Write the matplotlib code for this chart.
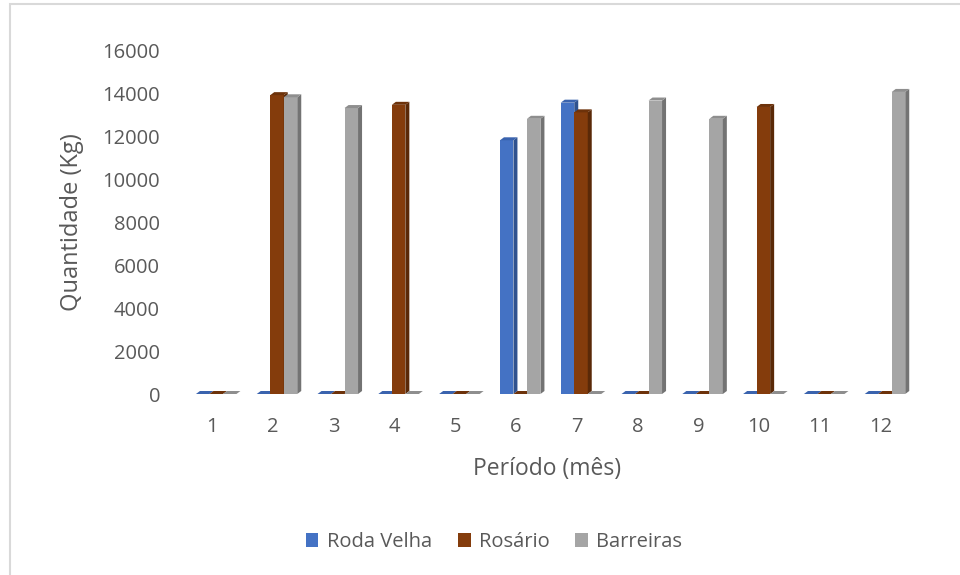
import matplotlib
matplotlib.use("Agg")
import matplotlib.pyplot as plt
from matplotlib.patches import Polygon, Rectangle
from matplotlib.transforms import ScaledTranslation
import numpy as np

# monthly quantities (kg) per site
months = [1, 2, 3, 4, 5, 6, 7, 8, 9, 10, 11, 12]
roda_velha = [0, 0, 0, 0, 0, 11800, 13550, 0, 0, 0, 0, 0]
rosario = [0, 13900, 0, 13450, 0, 0, 13100, 0, 0, 13350, 0, 0]
barreiras = [0, 13800, 13300, 0, 0, 12800, 0, 13650, 12800, 0, 0, 14050]
series_names = ["Roda Velha", "Rosário", "Barreiras"]
y_ticks = [0, 2000, 4000, 6000, 8000, 10000, 12000, 14000, 16000]

# front / side / top shades for the pseudo-3D columns
FACES = [
    ("#4472C4", "#2F528F", "#3A63AE"),
    ("#843C0C", "#5A2908", "#6D320A"),
    ("#A5A5A5", "#737373", "#8E8E8E"),
]
TEXT = "#595959"
FONT = "Open Sans"
TICK_SIZE = 14.5

W, H = 960, 575
fig = plt.figure(figsize=(W / 100, H / 100), dpi=100)
fig.patch.set_facecolor("white")


def px(x0, y0, x1, y1):
    # pixel box (top-left origin) -> figure fraction rect
    return [x0 / W, 1 - y1 / H, (x1 - x0) / W, (y1 - y0) / H]


ax = fig.add_axes(px(181.6, 50, 911.2, 394))
ax.set_xlim(0.5, 12.5)
ax.set_ylim(0, 16000)
ax.axis("off")

bar_w = 0.222
offsets = [-0.264, -0.042, 0.18]
# depth of the columns in data units (about 4 px right, 3 px up)
dx = 4 / 60.8
dy = 3 * 16000 / 344

all_series = [roda_velha, rosario, barreiras]
z = 2
for m_i, m in enumerate(months):
    for s_i, vals in enumerate(all_series):
        front, side, top = FACES[s_i]
        x0 = m + offsets[s_i]
        x1 = x0 + bar_w
        v = vals[m_i]
        if v > 0:
            ax.add_patch(Rectangle((x0, 0), bar_w, v, facecolor=front,
                                   edgecolor="none", zorder=z, clip_on=False))
            ax.add_patch(Polygon([(x1, 0), (x1 + dx, dy), (x1 + dx, v + dy), (x1, v)],
                                 closed=True, facecolor=side, edgecolor="none",
                                 zorder=z, clip_on=False))
        ax.add_patch(Polygon([(x0, v), (x0 + dx, v + dy), (x1 + dx, v + dy), (x1, v)],
                             closed=True, facecolor=top, edgecolor="none",
                             zorder=z, clip_on=False))
        z += 1

# tick labels (value labels sit a touch below their level, like the floor edge)
ytrans = ax.get_yaxis_transform() + ScaledTranslation(0, -3 / 100, fig.dpi_scale_trans)
for t in y_ticks:
    ax.text(-0.0296, t, str(t), transform=ytrans, ha="right",
            va="center", fontsize=TICK_SIZE, color=TEXT, family=FONT)
for m in months:
    ax.text(m, -0.095, str(m), transform=ax.get_xaxis_transform(), ha="center",
            va="center", fontsize=TICK_SIZE, color=TEXT, family=FONT)

fig.text(72 / W, 1 - 222 / H, "Quantidade (Kg)", rotation=90, ha="center",
         va="center", fontsize=17, color=TEXT, family=FONT)
fig.text(547.5 / W, 1 - 475 / H, "Período (mês)", ha="center", va="baseline",
         fontsize=16.5, color=TEXT, family=FONT)

# legend
handles = [Rectangle((0, 0), 1, 1, facecolor=f[0], edgecolor="none") for f in FACES]
leg = fig.legend(handles, series_names, loc="center", ncol=3,
                 bbox_to_anchor=(494 / W, 1 - 542 / H), frameon=False,
                 handlelength=0.63, handleheight=0.63, handletextpad=0.4,
                 columnspacing=1.3, prop={"family": FONT, "size": TICK_SIZE})
for txt in leg.get_texts():
    txt.set_color(TEXT)

# chart area border (only the top and left edges fall inside the image)
fig.patches.append(Rectangle((9.5 / W, -0.1), 1.2, (1 - 4 / H) + 0.1,
                             transform=fig.transFigure, fill=False,
                             edgecolor="#D9D9D9", linewidth=1.5))

fig.savefig("out.png", dpi=100)
